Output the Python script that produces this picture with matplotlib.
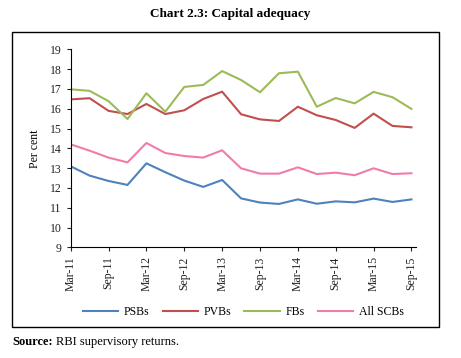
import matplotlib
matplotlib.use("Agg")
import matplotlib.pyplot as plt
from matplotlib.patches import Rectangle

plt.rcParams['font.family'] = ['Liberation Serif', 'DejaVu Serif']

# trimestres Mar-11 .. Sep-15
quarters = ['Mar-11', 'Jun-11', 'Sep-11', 'Dec-11', 'Mar-12', 'Jun-12', 'Sep-12', 'Dec-12',
            'Mar-13', 'Jun-13', 'Sep-13', 'Dec-13', 'Mar-14', 'Jun-14', 'Sep-14', 'Dec-14',
            'Mar-15', 'Jun-15', 'Sep-15']
psbs = [13.09, 12.62, 12.35, 12.15, 13.24, 12.79, 12.37, 12.05, 12.40, 11.47, 11.26, 11.19,
        11.42, 11.20, 11.32, 11.27, 11.46, 11.29, 11.42]
pvbs = [16.47, 16.53, 15.89, 15.73, 16.24, 15.73, 15.92, 16.49, 16.86, 15.72, 15.46, 15.38,
        16.10, 15.67, 15.43, 15.03, 15.75, 15.13, 15.06]
fbs = [16.98, 16.90, 16.38, 15.48, 16.78, 15.85, 17.10, 17.20, 17.90, 17.45, 16.83, 17.79,
       17.87, 16.10, 16.54, 16.27, 16.85, 16.58, 15.99]
all_scbs = [14.20, 13.88, 13.53, 13.29, 14.27, 13.76, 13.61, 13.53, 13.90, 12.99, 12.72, 12.72,
            13.04, 12.70, 12.77, 12.64, 12.99, 12.70, 12.74]

W, H = 461, 358
fig = plt.figure(figsize=(W / 100, H / 100), dpi=100)

# marco exterior
fig.patches.append(Rectangle((12 / W, (H - 327) / H), 427 / W, 295 / H,
                             transform=fig.transFigure, fill=False, edgecolor='black', lw=1))

ax = fig.add_axes([70.7 / W, (H - 247.3) / H, (416 - 70.7) / W, (247.3 - 49.3) / H])
x = list(range(len(quarters)))
ax.plot(x, psbs, color='#4F81BD', lw=1.5, label='PSBs')
ax.plot(x, pvbs, color='#C0504D', lw=1.5, label='PVBs')
ax.plot(x, fbs, color='#9BBB59', lw=1.5, label='FBs')
ax.plot(x, all_scbs, color='#F07CAB', lw=1.5, label='All SCBs')

ax.set_xlim(0, 18.24)
ax.set_ylim(9, 19)
ax.set_yticks(range(9, 20))
ax.set_xticks(x[::2])
ax.set_xticklabels(quarters[::2], rotation=90)
ax.tick_params(labelsize=8.5, length=3, width=0.8, colors='#222222')
for s in ['top', 'right']:
    ax.spines[s].set_visible(False)
for s in ['left', 'bottom']:
    ax.spines[s].set_linewidth(0.8)
ax.set_ylabel('Per cent', fontsize=8.5, labelpad=6)

ax.legend(loc='center', bbox_to_anchor=(0.5, -0.325), ncol=4, frameon=False,
          fontsize=8.5, handlelength=3.0, columnspacing=1.1, handletextpad=0.5)

fig.text(0.5, (H - 14) / H, 'Chart 2.3: Capital adequacy', ha='center', va='center',
         fontsize=9.5, fontweight='bold')

t = fig.text(12 / W, (H - 342) / H, 'Source:', fontsize=9, fontweight='bold', va='center')
fig.canvas.draw()
bb = t.get_window_extent()
fig.text((bb.x1 + 3) / W, (H - 342) / H, 'RBI supervisory returns.', fontsize=9, va='center')

fig.savefig('out.png', dpi=100)
